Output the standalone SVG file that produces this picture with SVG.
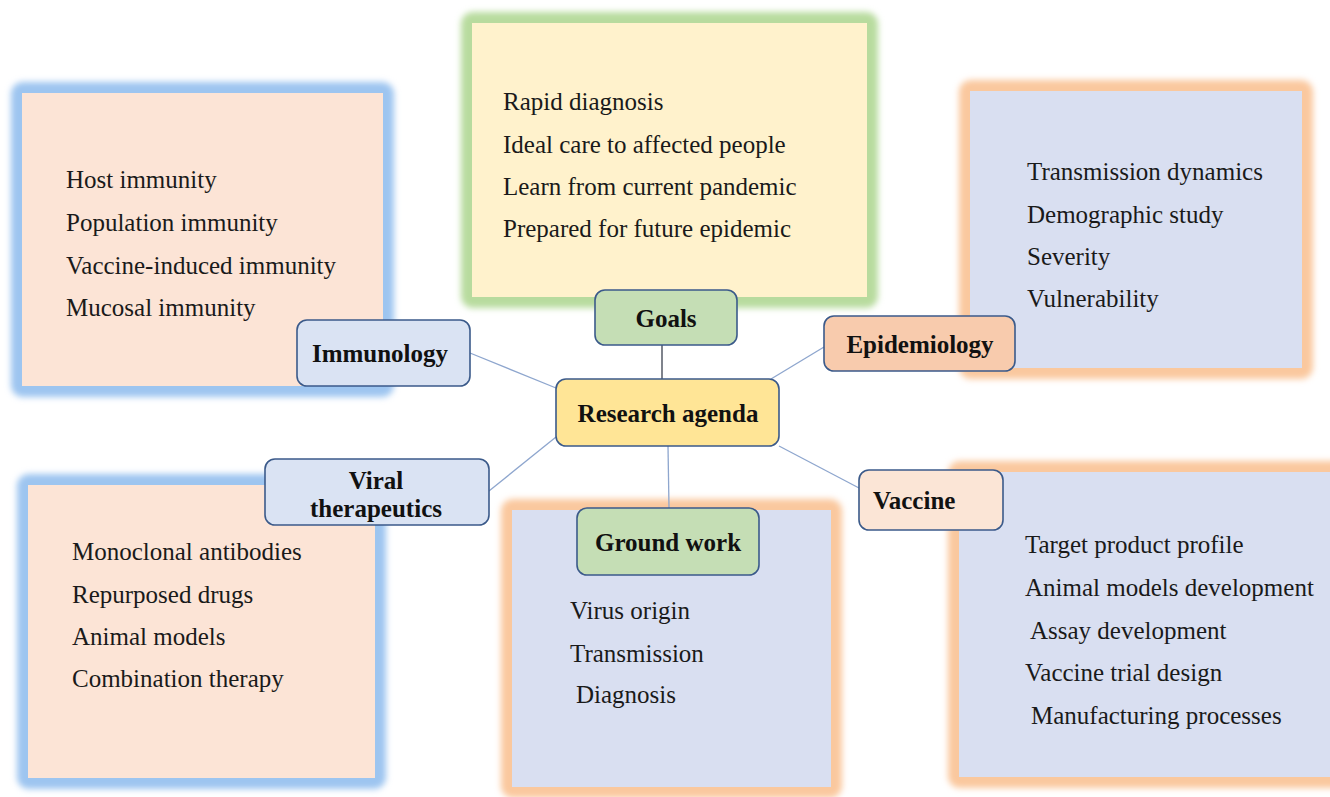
<svg xmlns="http://www.w3.org/2000/svg" width="1330" height="797" viewBox="0 0 1330 797">
<defs>
<filter id="glow" x="-10%" y="-10%" width="120%" height="120%"><feGaussianBlur stdDeviation="3"/></filter>
<style>
.item{font-family:"Liberation Serif","Times New Roman",serif;font-size:25px;fill:#1a1a1a}
.lbl{font-family:"Liberation Serif","Times New Roman",serif;font-size:25px;font-weight:bold;fill:#111}
.node{stroke:#3B5A8A;stroke-width:1.6}
.gb{fill:#9DC5F0}.gg{fill:#B8DB9E}.go{fill:#FAC89E}
.peach{fill:#FCE4D6}.yel{fill:#FFF2CC}.lav{fill:#D9DFF1}
.con{stroke:#8EA6CE;stroke-width:1.3;fill:none}
</style>
</defs>
<rect width="1330" height="797" fill="#ffffff"/>

<g id="panel-immunology">
<rect class="gb" x="11" y="82" width="383" height="315" rx="12" filter="url(#glow)"/>
<rect class="peach" x="22" y="93" width="361" height="293"/>
<text class="item" x="66" y="188">Host immunity</text>
<text class="item" x="66" y="231">Population immunity</text>
<text class="item" x="66" y="274">Vaccine-induced immunity</text>
<text class="item" x="66" y="316">Mucosal immunity</text>
</g>

<g id="panel-goals">
<rect class="gg" x="461" y="12" width="417" height="296" rx="12" filter="url(#glow)"/>
<rect class="yel" x="472" y="23" width="395" height="274"/>
<text class="item" x="503" y="110">Rapid diagnosis</text>
<text class="item" x="503" y="153">Ideal care to affected people</text>
<text class="item" x="503" y="195">Learn from current pandemic</text>
<text class="item" x="503" y="237">Prepared for future epidemic</text>
</g>

<g id="panel-epidemiology">
<rect class="go" x="959" y="80" width="354" height="299" rx="12" filter="url(#glow)"/>
<rect class="lav" x="970" y="91" width="332" height="277"/>
<text class="item" x="1027" y="180">Transmission dynamics</text>
<text class="item" x="1027" y="223">Demographic study</text>
<text class="item" x="1027" y="265">Severity</text>
<text class="item" x="1027" y="307">Vulnerability</text>
</g>

<g id="panel-therapeutics">
<rect class="gb" x="17" y="474" width="369" height="315" rx="12" filter="url(#glow)"/>
<rect class="peach" x="28" y="485" width="347" height="293"/>
<text class="item" x="72" y="560">Monoclonal antibodies</text>
<text class="item" x="72" y="603">Repurposed drugs</text>
<text class="item" x="72" y="645">Animal models</text>
<text class="item" x="72" y="687">Combination therapy</text>
</g>

<g id="panel-groundwork">
<rect class="go" x="501" y="499" width="341" height="299" rx="12" filter="url(#glow)"/>
<rect class="lav" x="512" y="510" width="319" height="277"/>
<text class="item" x="570" y="619">Virus origin</text>
<text class="item" x="570" y="662">Transmission</text>
<text class="item" x="576" y="703">Diagnosis</text>
</g>

<g id="panel-vaccine">
<rect class="go" x="948" y="461" width="402" height="327" rx="12" filter="url(#glow)"/>
<rect class="lav" x="959" y="472" width="380" height="305"/>
<text class="item" x="1025" y="553">Target product profile</text>
<text class="item" x="1025" y="596">Animal models development</text>
<text class="item" x="1030" y="639">Assay development</text>
<text class="item" x="1025" y="681">Vaccine trial design</text>
<text class="item" x="1031" y="724">Manufacturing processes</text>
</g>

<g id="connectors">
<line x1="662" y1="345" x2="662" y2="379" stroke="#5F6470" stroke-width="1.6"/>
<line class="con" x1="470" y1="353" x2="556" y2="388"/>
<line class="con" x1="824" y1="347" x2="771" y2="379"/>
<line class="con" x1="489" y1="491" x2="556" y2="437"/>
<line class="con" x1="668" y1="446" x2="669" y2="508"/>
<line class="con" x1="779" y1="446" x2="859" y2="488"/>
</g>

<g id="node-goals">
<rect class="node" x="595" y="290" width="142" height="55" rx="10" fill="#C5DEB5"/>
<text class="lbl" x="666" y="327" text-anchor="middle">Goals</text>
</g>
<g id="node-research">
<rect class="node" x="556" y="379" width="223" height="67" rx="10" fill="#FFE596"/>
<text class="lbl" x="668" y="422" text-anchor="middle">Research agenda</text>
</g>
<g id="node-immunology">
<rect class="node" x="297" y="320" width="173" height="66" rx="10" fill="#DAE3F3"/>
<text class="lbl" x="380" y="362" text-anchor="middle">Immunology</text>
</g>
<g id="node-epidemiology">
<rect class="node" x="824" y="316" width="191" height="55" rx="10" fill="#F8CBAD"/>
<text class="lbl" x="920" y="353" text-anchor="middle">Epidemiology</text>
</g>
<g id="node-therapeutics">
<rect class="node" x="265" y="459" width="224" height="66" rx="10" fill="#DAE3F3"/>
<text class="lbl" x="376" y="489" text-anchor="middle">Viral</text>
<text class="lbl" x="376" y="517" text-anchor="middle">therapeutics</text>
</g>
<g id="node-groundwork">
<rect class="node" x="577" y="508" width="182" height="67" rx="10" fill="#C5DEB5"/>
<text class="lbl" x="668" y="551" text-anchor="middle">Ground work</text>
</g>
<g id="node-vaccine">
<rect class="node" x="859" y="470" width="144" height="60" rx="10" fill="#FBE5D6"/>
<text class="lbl" x="873" y="509">Vaccine</text>
</g>
</svg>
